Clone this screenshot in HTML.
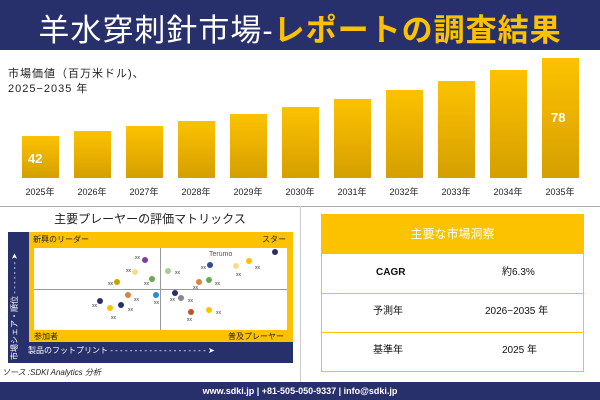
<!DOCTYPE html>
<html><head><meta charset="utf-8"><style>
body{margin:0;width:600px;height:400px;overflow:hidden;background:#fff;font-family:"Liberation Sans","Noto Sans CJK JP",sans-serif;position:relative}
.a{position:absolute}
.bar{position:absolute;width:37px;background:linear-gradient(#fcc200,#e6ad00 60%,#d4a000)}
.yr{position:absolute;top:186px;font-size:9px;width:40px;text-align:center;color:#222;line-height:12px}
.r{position:absolute;font-size:10px;line-height:14px;color:#111}
</style></head><body>
<div class="a" style="left:0;top:0;width:600px;height:50px;background:#28306b"></div>
<div class="a" style="left:0;top:5px;width:600px;text-align:center;font-size:31px;color:#fff;white-space:nowrap;letter-spacing:1px">羊水穿刺針市場-<span style="color:#fcc200;font-weight:bold">レポートの調査結果</span></div>
<div class="a" style="left:8px;top:67px;font-size:11px;color:#222;line-height:15px;letter-spacing:1px">市場価値（百万米ドル)、<br>2025−2035 年</div>
<div id="bars"></div>
<div class="a" style="left:28px;top:151px;font-size:13px;color:#fff;font-weight:bold">42</div>
<div class="a" style="left:551px;top:110px;font-size:13px;color:#fff;font-weight:bold">78</div>
<div class="a" style="left:0;top:206px;width:600px;height:1px;background:#aaa"></div>
<div class="a" style="left:300px;top:206px;width:1px;height:176px;background:#ccc"></div>
<div class="a" style="left:0;top:210px;width:300px;text-align:center;font-size:12px;color:#222">主要プレーヤーの評価マトリックス</div>
<div class="a" style="left:8px;top:232px;width:285px;height:131px;background:#28306b"></div>
<div class="a" style="left:29px;top:232px;width:264px;height:110px;background:#fcc200"></div>
<div class="a" style="left:34px;top:248px;width:253px;height:82px;background:#fff"></div>
<div class="a" style="left:160px;top:248px;width:1px;height:82px;background:#999"></div>
<div class="a" style="left:34px;top:289px;width:253px;height:1px;background:#999"></div>
<div class="a" style="left:33px;top:234px;font-size:8px;color:#222">新興のリーダー</div>
<div class="a" style="left:262px;top:234px;font-size:8px;color:#222">スター</div>
<div class="a" style="left:34px;top:331px;font-size:8px;color:#222">参加者</div>
<div class="a" style="left:228px;top:331px;font-size:8px;color:#222">普及プレーヤー</div>
<div class="a" style="left:28px;top:345px;font-size:8px;color:#fff;white-space:nowrap">製品のフットプリント - - - - - - - - - - - - - - - - - - - - ➤</div>
<div class="a" style="left:9px;top:360px;font-size:8px;color:#fff;transform:rotate(-90deg);transform-origin:left top;white-space:nowrap;width:125px">市場シェア・順位 - - - - - - - ➤</div>
<svg class="a" style="left:0;top:0" width="600" height="400" font-size="5" fill="#333" font-family="Liberation Sans">
<g id="d"></g>
<text x="209" y="256" font-size="7" fill="#555">Terumo</text>
</svg>
<div class="a" style="left:2px;top:367px;font-size:8px;font-style:italic;color:#222">ソース :SDKI Analytics 分析</div>
<div class="a" style="left:321px;top:214px;width:263px;height:158px;border:1px solid #fcc200;box-sizing:border-box"></div>
<div class="a" style="left:321px;top:214px;width:263px;height:40px;background:#fcc200;color:#fff;font-size:12px;text-align:center;line-height:40px">主要な市場洞察</div>
<div class="a" style="left:321px;top:293px;width:263px;height:1px;background:#fcc200"></div>
<div class="a" style="left:321px;top:332px;width:263px;height:1px;background:#fcc200"></div>
<div class="r" style="left:376px;top:266px;font-weight:bold">CAGR</div>
<div class="r" style="left:502px;top:266px">約6.3%</div>
<div class="r" style="left:373px;top:305px">予測年</div>
<div class="r" style="left:485px;top:305px">2026−2035 年</div>
<div class="r" style="left:373px;top:344px">基準年</div>
<div class="r" style="left:502px;top:344px">2025 年</div>
<div class="a" style="left:0;top:382px;width:600px;height:18px;background:#28306b;color:#fff;font-size:9px;font-weight:bold;text-align:center;line-height:18px">www.sdki.jp | +81-505-050-9337 | info@sdki.jp</div>
<script>
var tops=[136,131,126,121,114,107,99,90,81,70,58],h='';
tops.forEach(function(t,i){var x=22+52*i;h+='<div class="bar" style="left:'+x+'px;top:'+t+'px;height:'+(178-t)+'px"></div><div class="yr" style="left:'+(x-2)+'px">'+(2025+i)+'年</div>';});
document.getElementById('bars').innerHTML=h;
var D=[[145,260,'#7b3fa0',135,257],[135,272,'#f5de8a',126,270],[117,282,'#c9a000',108,283],[152,279,'#6aa84f',144,283],[168,271,'#a8d08d',175,272],[210,265,'#2f4a9a',201,267],[275,252,'#28306b'],[236,266,'#f5de8a',236,274],[249,261,'#fcc200',255,267],[199,282,'#e08040',193,287],[209,280,'#6aa84f',215,283],[128,295,'#e08040',134,299],[156,295,'#2a8ad4',154,302],[100,301,'#28306b',92,305],[110,308,'#fcc200',111,317],[121,305,'#28306b',128,309],[175,293,'#28306b',170,299],[181,298,'#888',188,300],[191,312,'#c0502a',187,319],[209,310,'#fcc200',216,312]],s='';
D.forEach(function(d){s+='<circle cx="'+d[0]+'" cy="'+d[1]+'" r="3" fill="'+d[2]+'"/>';if(d[3])s+='<text x="'+d[3]+'" y="'+(d[4]+2)+'">xx</text>';});
document.getElementById('d').innerHTML=s;
</script>
</body></html>
